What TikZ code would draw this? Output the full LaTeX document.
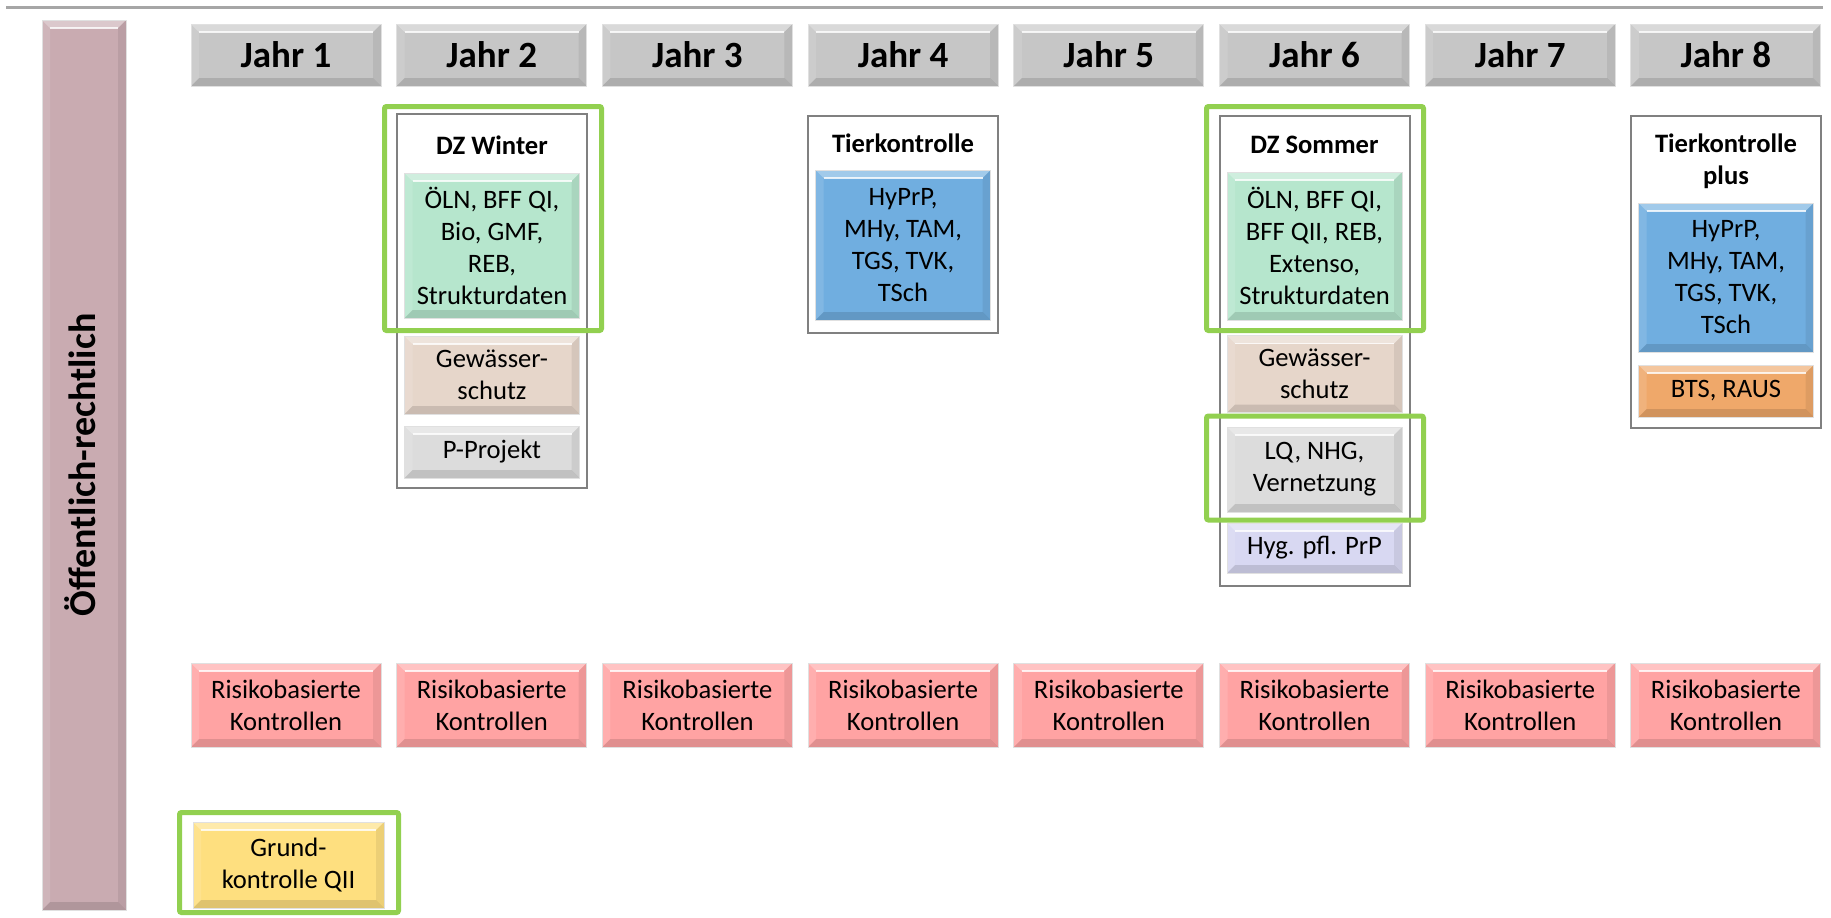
\documentclass[tikz,border=0pt]{standalone}
\usepackage{fontspec}
\setmainfont{Carlito}

\definecolor{jahrgray}{HTML}{C6C6C6}
\definecolor{barmauve}{HTML}{C9ABB1}
\definecolor{dzgreen}{HTML}{B6E6CD}
\definecolor{gwsbeige}{HTML}{E6D6CA}
\definecolor{boxgray}{HTML}{DCDCDC}
\definecolor{tierblue}{HTML}{70AEE0}
\definecolor{btsorange}{HTML}{EFA86A}
\definecolor{hyglav}{HTML}{D8D8F2}
\definecolor{riskred}{HTML}{FFA3A3}
\definecolor{grundyellow}{HTML}{FEDF7F}
\definecolor{framegreen}{HTML}{92D050}

\begin{document}
\begin{tikzpicture}[x=0.5pt, y=-0.5pt,
  bevel/.style={fill=#1, draw=black!12, line width=0.5pt, inner sep=0pt, align=center,
    font=\fontsize{13.3}{16}\selectfont,
    path picture={
      \coordinate (pnw) at (path picture bounding box.north west);
      \coordinate (pne) at (path picture bounding box.north east);
      \coordinate (psw) at (path picture bounding box.south west);
      \coordinate (pse) at (path picture bounding box.south east);
      \fill[white, opacity=.35] (pnw) -- (pne) -- ([shift={(-4pt,-4pt)}]pne) -- ([shift={(4pt,-4pt)}]pnw) -- cycle;
      \fill[black, opacity=.12] (psw) -- (pse) -- ([shift={(-4pt,4pt)}]pse) -- ([shift={(4pt,4pt)}]psw) -- cycle;
      \fill[white, opacity=.12] (pnw) -- ([shift={(4pt,-4pt)}]pnw) -- ([shift={(4pt,4pt)}]psw) -- (psw) -- cycle;
      \fill[black, opacity=.07] (pne) -- ([shift={(-4pt,-4pt)}]pne) -- ([shift={(-4pt,4pt)}]pse) -- (pse) -- cycle;
      \draw[white, opacity=.8, line width=0.8pt] ([shift={(4pt,-4pt)}]pnw) -- ([shift={(-4pt,-4pt)}]pne);
    }},
  yearbox/.style={bevel=jahrgray, minimum width=95pt, minimum height=31pt,
    font=\fontsize{18.5}{22}\selectfont\bfseries},
  ctrlbox/.style={bevel=#1, minimum width=87.5pt},
  groupframe/.style={draw=black!50, line width=1pt, minimum width=95pt, inner sep=0pt},
  greenframe/.style={draw=framegreen, line width=2.5pt, rounded corners=1pt, minimum width=108.5pt, inner sep=0pt},
  grouptitle/.style={font=\fontsize{13.3}{16}\selectfont\bfseries, align=center}
]
\useasboundingbox (0,0) rectangle (1831,917);

% top rule and side bar
\draw[line width=1.5pt, draw=black!35] (6,7) -- (1823,7);
\node[bevel=barmauve, minimum width=42pt, minimum height=445pt] (bar) at (84,465) {};
\node[rotate=90, font=\fontsize{19}{23}\selectfont\bfseries] (bartext) at (80,465) {Öffentlich-rechtlich};

% years and risk based controls
\foreach \i in {1,...,8} {
  \node[yearbox] (jahr\i) at ({286+205.7*(\i-1)},55) {Jahr \i};
  \node[ctrlbox=riskred, minimum width=95pt, minimum height=42pt] (risk\i) at ({286+205.7*(\i-1)},705) {Risikobasierte\\Kontrollen};
}

% Jahr 2
\node[groupframe, minimum height=187pt] (dzwframe) at (492,301) {};
\node[grouptitle] (dzwtitle) at (492,145) {DZ Winter};
\node[ctrlbox=dzgreen, minimum height=72.5pt] (dzwbox) at (492,245.5) {ÖLN, BFF QI,\\Bio, GMF,\\REB,\\Strukturdaten};
\node[ctrlbox=gwsbeige, minimum height=39pt] (gws2) at (492,375) {Gewässer-\\schutz};
\node[ctrlbox=boxgray, minimum height=26pt] (pproj) at (492,452) {P-Projekt};
\node[greenframe, minimum height=112pt] (dzwmark) at (493,218.5) {};

% Jahr 4
\node[groupframe, minimum height=108.5pt] (tkframe) at (903,224.5) {};
\node[grouptitle] (tktitle) at (903,143) {Tierkontrolle};
\node[ctrlbox=tierblue, minimum height=75pt] (tkbox) at (903,245) {HyPrP,\\MHy, TAM,\\TGS, TVK,\\TSch};

% Jahr 6
\node[groupframe, minimum height=235pt] (dzsframe) at (1314.5,351) {};
\node[grouptitle] (dzstitle) at (1314.5,145) {DZ Sommer};
\node[ctrlbox=dzgreen, minimum height=74pt] (dzsbox) at (1314.5,246) {ÖLN, BFF QI,\\BFF QII, REB,\\Extenso,\\Strukturdaten};
\node[ctrlbox=gwsbeige, minimum height=38.5pt] (gws6) at (1314.5,374) {Gewässer-\\schutz};
\node[ctrlbox=boxgray, minimum height=42.5pt] (lq) at (1314.5,469.5) {LQ, NHG,\\Vernetzung};
\node[ctrlbox=hyglav, minimum height=25pt] (hyg) at (1314.5,548) {Hyg. pfl. PrP};
\node[greenframe, minimum height=112pt] (dzsmark) at (1315,218.5) {};
\node[greenframe, minimum height=52pt] (lqmark) at (1315,468) {};

% Jahr 8
\node[groupframe, minimum height=156pt] (tkpframe) at (1726,272) {};
\node[grouptitle] (tkptitle) at (1726,161) {Tierkontrolle\\plus};
\node[ctrlbox=tierblue, minimum height=74.5pt] (tkpbox) at (1726,277.5) {HyPrP,\\MHy, TAM,\\TGS, TVK,\\TSch};
\node[ctrlbox=btsorange, minimum height=26pt] (bts) at (1726,391) {BTS, RAUS};

% Grundkontrolle
\node[ctrlbox=grundyellow, minimum width=95.5pt, minimum height=43pt] (grund) at (288.5,865) {Grund-\\kontrolle QII};
\node[greenframe, minimum width=109.5pt, minimum height=50pt] (grundmark) at (289,862.5) {};
\end{tikzpicture}
\end{document}
